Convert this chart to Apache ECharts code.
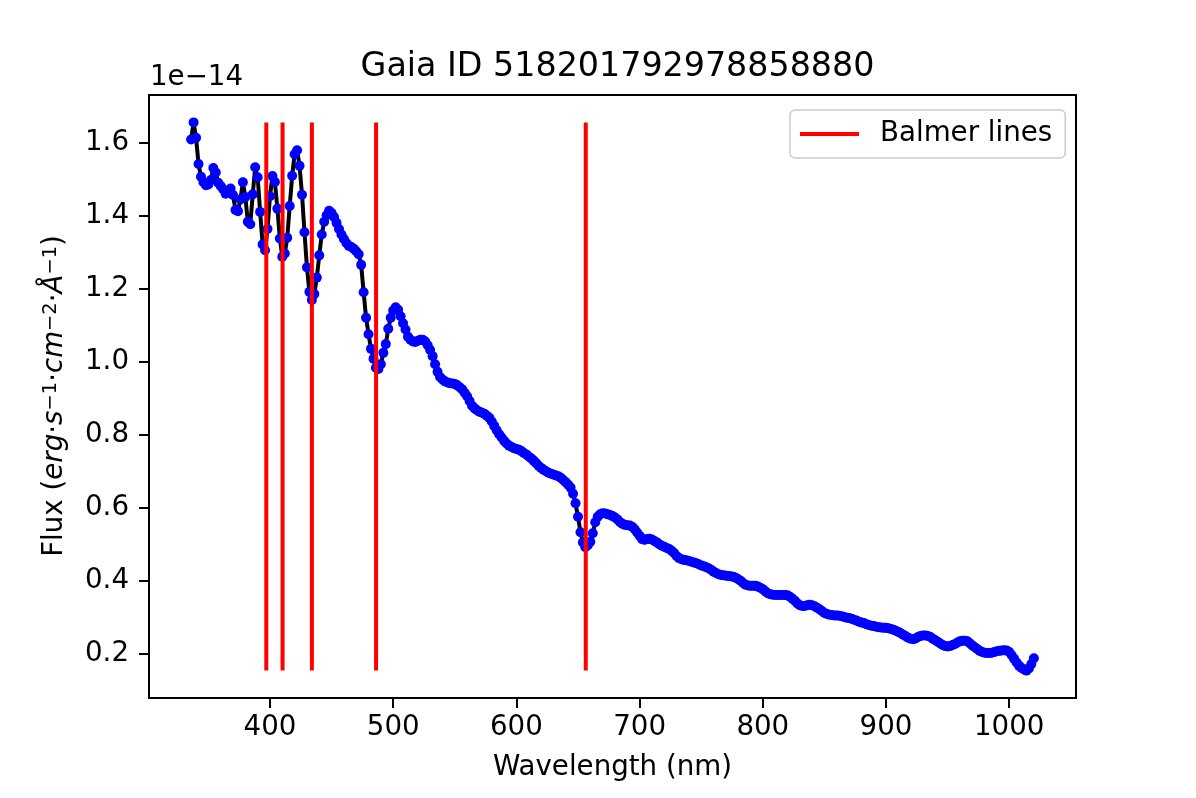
<!DOCTYPE html>
<html><head><meta charset="utf-8">
<script src="https://cdn.jsdelivr.net/npm/echarts@6/dist/echarts.min.js"></script>
<style>html,body{margin:0;padding:0;background:#fff}#c{width:1196px;height:798px}</style>
</head><body><div id="c"></div><script>
const wavelength = [
336,338,340,342,344,346,348,350,352,354,
356,358,360,362,364,366,368,370,372,374,
376,378,380,382,384,386,388,390,392,394,
396,398,400,402,404,406,408,410,412,414,
416,418,420,422,424,426,428,430,432,434,
436,438,440,442,444,446,448,450,452,454,
456,458,460,462,464,466,468,470,472,474,
476,478,480,482,484,486,488,490,492,494,
496,498,500,502,504,506,508,510,512,514,
516,518,520,522,524,526,528,530,532,534,
536,538,540,542,544,546,548,550,552,554,
556,558,560,562,564,566,568,570,572,574,
576,578,580,582,584,586,588,590,592,594,
596,598,600,602,604,606,608,610,612,614,
616,618,620,622,624,626,628,630,632,634,
636,638,640,642,644,646,648,650,652,654,
656,658,660,662,664,666,668,670,672,674,
676,678,680,682,684,686,688,690,692,694,
696,698,700,702,704,706,708,710,712,714,
716,718,720,722,724,726,728,730,732,734,
736,738,740,742,744,746,748,750,752,754,
756,758,760,762,764,766,768,770,772,774,
776,778,780,782,784,786,788,790,792,794,
796,798,800,802,804,806,808,810,812,814,
816,818,820,822,824,826,828,830,832,834,
836,838,840,842,844,846,848,850,852,854,
856,858,860,862,864,866,868,870,872,874,
876,878,880,882,884,886,888,890,892,894,
896,898,900,902,904,906,908,910,912,914,
916,918,920,922,924,926,928,930,932,934,
936,938,940,942,944,946,948,950,952,954,
956,958,960,962,964,966,968,970,972,974,
976,978,980,982,984,986,988,990,992,994,
996,998,1000,1002,1004,1006,1008,1010,1012,1014,
1016,1018,1020
];
// Flux in units of 1e-14 erg s^-1 cm^-2 A^-1
const flux = [
1.608,1.655,1.613,1.541,1.506,1.491,1.483,1.485,1.497,1.530,
1.518,1.490,1.481,1.472,1.460,1.467,1.474,1.456,1.415,1.412,
1.444,1.491,1.451,1.383,1.376,1.458,1.532,1.505,1.410,1.321,
1.305,1.363,1.453,1.508,1.492,1.419,1.337,1.287,1.296,1.339,
1.426,1.509,1.568,1.579,1.536,1.457,1.354,1.258,1.191,1.169,
1.185,1.230,1.291,1.348,1.383,1.401,1.413,1.407,1.396,1.380,
1.363,1.348,1.336,1.325,1.317,1.314,1.309,1.302,1.294,1.265,
1.190,1.120,1.075,1.035,1.008,0.983,0.980,0.993,1.024,1.048,
1.090,1.120,1.140,1.149,1.142,1.124,1.105,1.088,1.068,1.060,
1.055,1.054,1.057,1.060,1.060,1.055,1.045,1.032,1.015,0.993,
0.972,0.958,0.951,0.946,0.943,0.941,0.940,0.939,0.935,0.930,
0.924,0.915,0.905,0.892,0.879,0.872,0.867,0.863,0.860,0.857,
0.852,0.846,0.836,0.824,0.812,0.801,0.792,0.783,0.776,0.770,
0.766,0.763,0.761,0.759,0.755,0.750,0.746,0.740,0.735,0.729,
0.722,0.715,0.709,0.704,0.700,0.696,0.693,0.691,0.688,0.686,
0.682,0.676,0.670,0.663,0.655,0.638,0.612,0.575,0.533,0.505,
0.492,0.497,0.507,0.530,0.560,0.575,0.582,0.585,0.584,0.582,
0.580,0.577,0.573,0.568,0.561,0.556,0.553,0.552,0.551,0.548,
0.541,0.532,0.523,0.514,0.512,0.514,0.515,0.513,0.509,0.505,
0.500,0.496,0.493,0.490,0.487,0.482,0.476,0.468,0.462,0.459,
0.457,0.456,0.454,0.452,0.450,0.448,0.445,0.442,0.440,0.437,
0.434,0.430,0.425,0.421,0.418,0.416,0.415,0.414,0.413,0.412,
0.411,0.408,0.404,0.400,0.394,0.389,0.387,0.386,0.386,0.386,
0.384,0.381,0.377,0.371,0.366,0.363,0.362,0.361,0.361,0.361,
0.361,0.361,0.360,0.356,0.351,0.345,0.338,0.333,0.331,0.331,
0.333,0.334,0.333,0.330,0.326,0.322,0.317,0.312,0.309,0.307,
0.306,0.305,0.305,0.304,0.303,0.301,0.299,0.298,0.296,0.293,
0.291,0.288,0.286,0.284,0.281,0.279,0.277,0.276,0.274,0.273,
0.272,0.271,0.271,0.270,0.268,0.266,0.263,0.260,0.256,0.252,
0.248,0.244,0.241,0.240,0.242,0.246,0.249,0.250,0.250,0.249,
0.246,0.241,0.237,0.233,0.228,0.224,0.221,0.220,0.221,0.224,
0.227,0.231,0.234,0.236,0.236,0.234,0.229,0.223,0.218,0.213,
0.208,0.205,0.203,0.202,0.202,0.203,0.205,0.207,0.208,0.209,
0.210,0.209,0.205,0.196,0.186,0.176,0.167,0.161,0.157,0.154,
0.160,0.172,0.188
];
const balmerLines = [397.0, 410.2, 434.0, 486.1, 656.3];
const xTicks = [400, 500, 600, 700, 800, 900, 1000];
const yTicks = [0.2, 0.4, 0.6, 0.8, 1.0, 1.2, 1.4, 1.6];
const titleText = 'Gaia ID 518201792978858880';

const FONT = 'DejaVu Sans';
const FS = 27.7;
const fMin = Math.min(...flux), fMax = Math.max(...flux);
const wMin = Math.min(...wavelength), wMax = Math.max(...wavelength);
const xPad = 0.05 * (wMax - wMin), yPad = 0.05 * (fMax - fMin);
const points = wavelength.map((w, i) => [w, flux[i]]);

const chart = echarts.init(document.getElementById('c'));
const balmerSeries = balmerLines.map(b => ({
  type: 'line', name: 'Balmer lines', data: [[b, fMin], [b, fMax]],
  symbol: 'none', silent: true, z: 4,
  lineStyle: { color: '#ff0000', width: 4, cap: 'butt' },
  itemStyle: { color: '#ff0000' }
}));
chart.setOption({
  animation: false,
  backgroundColor: '#ffffff',
  textStyle: { fontFamily: FONT },
  title: {
    text: titleText, left: 612.5, top: 46, textAlign: 'center',
    textStyle: { fontSize: 33.3, fontWeight: 'normal', color: '#000', fontFamily: FONT }
  },
  grid: { left: 149, right: 120, top: 95, bottom: 100, show: true, borderColor: '#000', borderWidth: 2, containLabel: false },
  legend: {
    data: [{ name: 'Balmer lines', icon: 'rect' }],
    left: 790, top: 110, orient: 'vertical', selectedMode: false,
    itemWidth: 59, itemHeight: 4,
    padding: [10, 13, 10, 10],
    borderColor: '#cccccc', borderWidth: 1.5, borderRadius: 5,
    backgroundColor: 'rgba(255,255,255,0.8)',
    textStyle: { fontSize: FS, color: '#000', fontFamily: FONT, padding: [0, 0, 0, 16] }
  },
  xAxis: {
    type: 'value', min: wMin - xPad, max: wMax + xPad,
    axisLine: { show: true, onZero: false, lineStyle: { color: '#000', width: 2 } },
    axisTick: { show: true, length: 10, lineStyle: { color: '#000', width: 2 }, customValues: xTicks },
    axisLabel: { customValues: xTicks, fontSize: FS, color: '#000', fontFamily: FONT, margin: 16,
      formatter: v => String(v) },
    splitLine: { show: false }
  },
  yAxis: {
    type: 'value', min: fMin - yPad, max: fMax + yPad,
    axisLine: { show: true, onZero: false, lineStyle: { color: '#000', width: 2 } },
    axisTick: { show: true, length: 10, lineStyle: { color: '#000', width: 2 }, customValues: yTicks },
    axisLabel: { customValues: yTicks, fontSize: FS, color: '#000', fontFamily: FONT, margin: 20,
      formatter: v => v.toFixed(1) },
    splitLine: { show: false }
  },
  graphic: [
    { type: 'text', x: 150, y: 78, style: { text: '1e\u221214', fontSize: FS, fontFamily: FONT, fill: '#000', align: 'left', verticalAlign: 'middle' } },
    { type: 'text', x: 612.5, y: 768, style: { text: 'Wavelength (nm)', fontSize: FS, fontFamily: FONT, fill: '#000', align: 'center', verticalAlign: 'middle' } },
    { type: 'text', x: 55, y: 396, rotation: Math.PI / 2,
      style: {
        text: '{n|Flux (}{i|erg}{n|·}{i|s}{s|\u22121}{n|·}{i|cm}{s|\u22122}{n|·}{i|Å}{s|\u22121}{n|)}',
        align: 'center', verticalAlign: 'middle', fill: '#000',
        rich: {
          n: { fontSize: FS, fontFamily: FONT, fill: '#000', verticalAlign: 'bottom' },
          i: { fontSize: FS, fontFamily: FONT, fontStyle: 'italic', fill: '#000', verticalAlign: 'bottom' },
          s: { fontSize: 19.4, fontFamily: FONT, fill: '#000', verticalAlign: 'top' }
        }
      } }
  ],
  series: [
    { type: 'line', name: 'spectrum', data: points, symbol: 'none', silent: true, z: 2,
      lineStyle: { color: '#000', width: 4 } },
    { type: 'scatter', name: 'spectrum points', data: points, symbol: 'circle', symbolSize: 10, silent: true, z: 3,
      itemStyle: { color: '#0000ff', opacity: 1 } },
    ...balmerSeries
  ]
});
</script></body></html>
